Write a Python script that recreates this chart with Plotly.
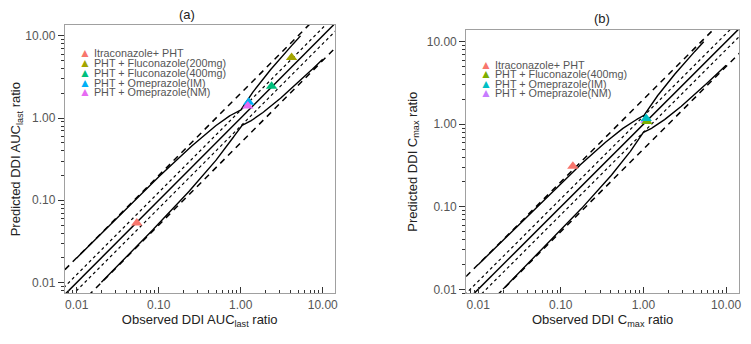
import numpy as np
import plotly.graph_objects as go

# panel (a): AUC ratios
a_labels = ["Itraconazole+ PHT", "PHT + Fluconazole(200mg)", "PHT + Fluconazole(400mg)",
            "PHT + Omeprazole(IM)", "PHT + Omeprazole(NM)"]
a_colors = ["#F8766D", "#A3A500", "#00BF7D", "#00B0F6", "#E76BF3"]
a_obs = [0.054, 4.17, 2.38, 1.25, 1.22]
a_pred = [0.053, 5.43, 2.43, 1.56, 1.40]

# panel (b): Cmax ratios
b_labels = ["Itraconazole+ PHT", "PHT + Fluconazole(400mg)",
            "PHT + Omeprazole(IM)", "PHT + Omeprazole(NM)"]
b_colors = ["#F8766D", "#7CAE00", "#00BFC4", "#C77CFF"]
b_obs = [0.14, 1.10, 1.08, 1.07]
b_pred = [0.31, 1.08, 1.17, 1.12]

tick_vals = [0.01, 0.1, 1, 10]
tick_text = ["0.01", "0.10", "1.00", "10.00"]

W, H = 751, 344
OFF = 8  # the page body has an 8px margin


def px(x):
    return (x - OFF) / W


def py(y):
    return 1 - (y - OFF) / H


fig = go.Figure()

# reference lines (unity, 1.25-fold, 2-fold, Guest limits with delta = 1.25)
ref_x = np.array([0.003, 30])
grid = np.logspace(-2, 1, 400)
r = np.where(grid >= 1, grid, 1 / grid)
limit = (1.25 + 2 * (r - 1)) / r
guest_up = grid * limit
guest_lo = grid / limit


def add_refs(xa, ya):
    for k, dash in [(1, "solid"), (1.25, "dot"), (0.8, "dot"), (2, "6px,5px"), (0.5, "6px,5px")]:
        fig.add_trace(go.Scatter(x=ref_x, y=ref_x * k, mode="lines", xaxis=xa, yaxis=ya,
                                 line=dict(color="black", width=1.5 if dash != "dot" else 1.2, dash=dash),
                                 showlegend=False, hoverinfo="skip"))
    up = np.where(guest_up <= 10, guest_up, np.nan)
    lo = np.where(guest_lo >= 0.01, guest_lo, np.nan)
    for yy in (up, lo):
        fig.add_trace(go.Scatter(x=grid, y=yy, mode="lines", xaxis=xa, yaxis=ya,
                                 line=dict(color="black", width=1.4),
                                 showlegend=False, hoverinfo="skip"))


add_refs("x", "y")
add_refs("x2", "y2")

for i in range(len(a_labels)):
    fig.add_trace(go.Scatter(x=[a_obs[i]], y=[a_pred[i]], mode="markers", xaxis="x", yaxis="y",
                             marker=dict(symbol="triangle-up", size=10, color=a_colors[i]),
                             name=a_labels[i], showlegend=False))

# NM drawn first in (b) so the IM marker sits on top, as in the original
for i in [3, 1, 2, 0]:
    fig.add_trace(go.Scatter(x=[b_obs[i]], y=[b_pred[i]], mode="markers", xaxis="x2", yaxis="y2",
                             marker=dict(symbol="triangle-up", size=10, color=b_colors[i]),
                             name=b_labels[i], showlegend=False))

# hand-built legends (plotly's legend rows are too tall)
legend_font = dict(family="Liberation Sans, Arial", size=10.8, color="#555555")


def legend_row(color, label):
    return f'<span style="color:{color};font-size:12px">▲</span> {label}'


for i, lab in enumerate(a_labels):
    fig.add_annotation(xref="paper", yref="paper", x=px(77), y=py(53.5 + i * 9.9),
                       xanchor="left", yanchor="middle", showarrow=False, font=legend_font,
                       text=legend_row(a_colors[i], lab))
for i, lab in enumerate(b_labels):
    fig.add_annotation(xref="paper", yref="paper", x=px(480), y=py(65.5 + i * 9.4),
                       xanchor="left", yanchor="middle", showarrow=False, font=legend_font,
                       text=legend_row(b_colors[i], lab))

# panel titles
for txt, xp, yp in [("(a)", 188, 15), ("(b)", 604, 19)]:
    fig.add_annotation(xref="paper", yref="paper", x=px(xp), y=py(yp), showarrow=False,
                       xanchor="center", yanchor="middle",
                       text=txt, font=dict(family="Liberation Sans, Arial", size=13, color="#222222"))

axis_common = dict(type="log", showgrid=False, zeroline=False, showline=True, mirror=True,
                   linecolor="#a0a0a0", linewidth=1, tickvals=tick_vals, ticktext=tick_text,
                   tickcolor="#333333", ticklen=6,
                   tickfont=dict(family="Liberation Sans, Arial", size=12, color="#555555"),
                   title_font=dict(family="Liberation Sans, Arial", size=13, color="#222222"),
                   minor=dict(ticks="outside", ticklen=3, tickcolor="#333333", dtick="D1"))

fig.update_layout(
    width=W, height=H, margin=dict(l=0, r=0, t=0, b=0),
    plot_bgcolor="white", paper_bgcolor="white", showlegend=False,
    xaxis=dict(axis_common, domain=[px(65), px(336)], range=[-2.146, 1.146], anchor="y",
               ticks="inside", minor=dict(axis_common["minor"], ticks="inside"),
               title=dict(text="Observed DDI AUC<sub>last</sub> ratio", standoff=4)),
    yaxis=dict(axis_common, domain=[py(296), py(25)], range=[-2.133, 1.133], anchor="x",
               ticks="outside",
               title=dict(text="Predicted DDI AUC<sub>last</sub> ratio", standoff=6)),
    xaxis2=dict(axis_common, domain=[px(468), px(742)], range=[-2.145, 1.157], anchor="y2",
                ticks="inside", minor=dict(axis_common["minor"], ticks="inside"),
                title=dict(text="Observed DDI C<sub>max</sub> ratio", standoff=4)),
    yaxis2=dict(axis_common, domain=[py(296), py(30)], range=[-2.05, 1.144], anchor="x2",
                ticks="outside",
                title=dict(text="Predicted DDI C<sub>max</sub> ratio", standoff=6)),
)

fig.write_html("out.html")
